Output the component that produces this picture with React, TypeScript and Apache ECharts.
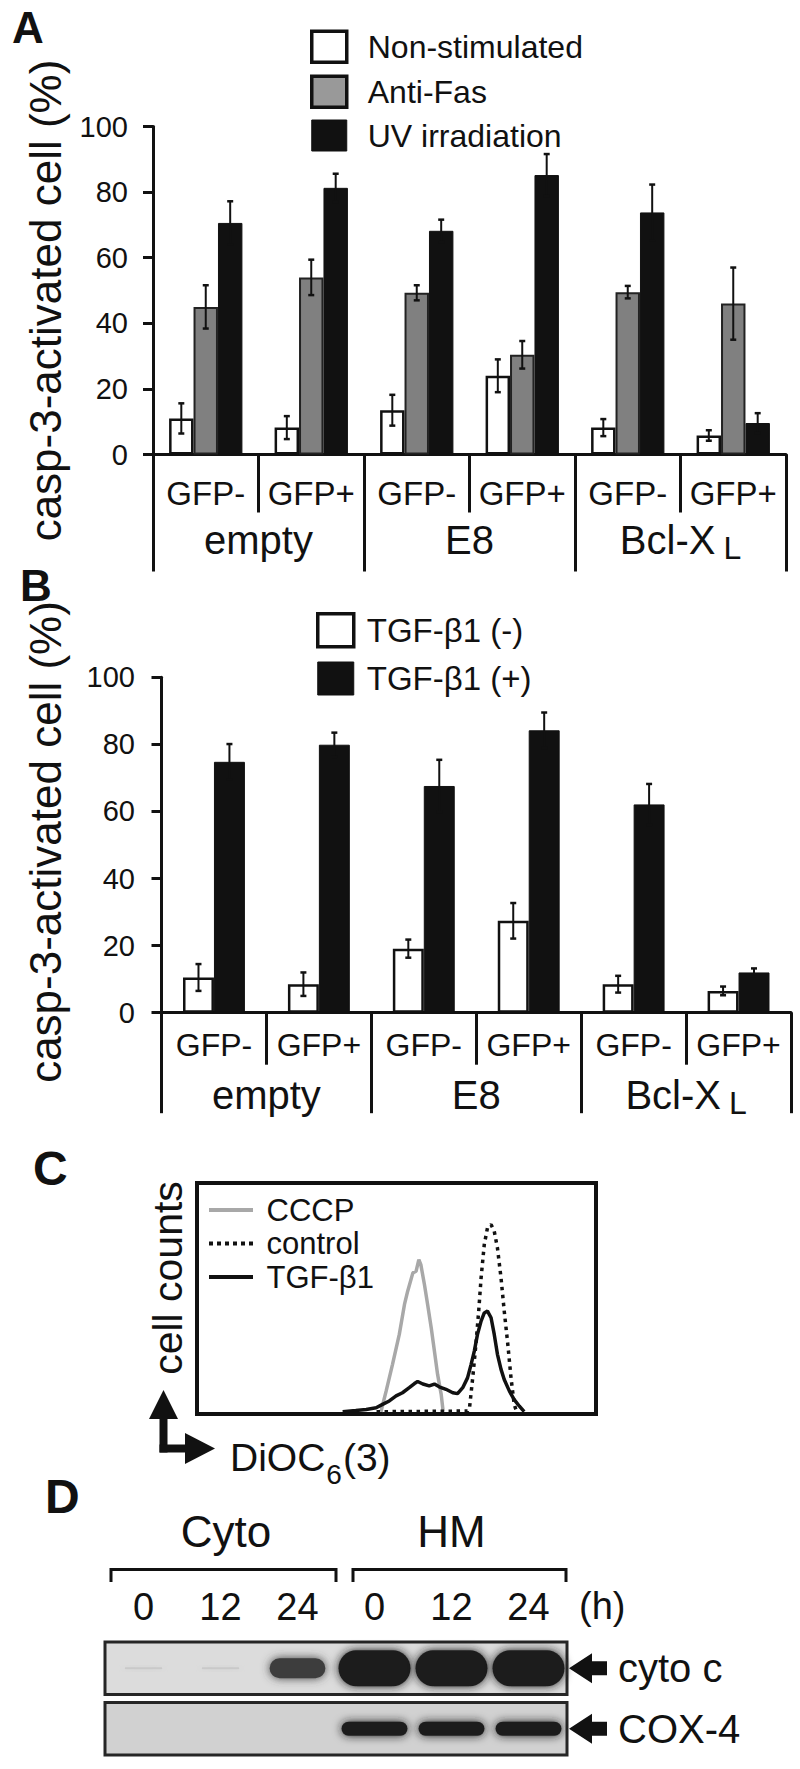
import React, { useEffect, useRef } from 'react';
import * as echarts from 'echarts';

const FONT = "'Liberation Sans', Arial, Helvetica, sans-serif";
const INK = '#111111';

// ---------- Panel A data ----------
const gfpCategories = ['GFP-', 'GFP+', 'GFP-', 'GFP+', 'GFP-', 'GFP+'];
const constructGroups = ['empty', 'E8', 'Bcl-XL'];
const aSeriesNames = ['Non-stimulated', 'Anti-Fas', 'UV irradiation'];
const aNonStim = [11, 8.2, 13.5, 24, 8.2, 5.8];
const aNonStimErr = [4.6, 3.5, 4.7, 5, 2.6, 1.6];
const aAntiFas = [45, 54, 49.3, 30.4, 49.5, 46];
const aAntiFasErr = [6.6, 5.4, 2.3, 4.2, 1.9, 11];
const aUV = [70.6, 81.3, 68.2, 85.2, 73.8, 9.6];
const aUVErr = [6.6, 4.3, 3.4, 6.4, 8.5, 3];

// ---------- Panel B data ----------
const bSeriesNames = ['TGF-β1 (-)', 'TGF-β1 (+)'];
const bMinus = [10.5, 8.5, 19.1, 27.4, 8.5, 6.5];
const bMinusErr = [4, 3.5, 2.7, 5.3, 2.5, 1.3];
const bPlus = [74.8, 79.9, 67.6, 84.2, 62.1, 12];
const bPlusErr = [5.3, 3.6, 7.8, 5.3, 6.1, 1.2];

// ---------- Panel C data (DiOC6(3) channel, relative cell counts) ----------
const cSeriesNames = ['CCCP', 'control', 'TGF-β1'];
const cccpHist = [[461, 0], [474, 9], [490, 20.7], [507, 33.8], [520, 46.9], [528, 52.7], [541, 60.7], [549, 61.4], [556, 66.5], [561, 64.3], [570, 55.6], [578, 46.9], [587, 36.7], [595, 26.5], [603, 16.3], [612, 7.6], [617, 0]];
const controlHist = [[450, 0], [678, 0.3], [683, 1.7], [691, 14.8], [699, 29.4], [706, 44], [712, 58.5], [720, 73.1], [728, 80.4], [737, 81.8], [745, 78.9], [753, 71.6], [762, 58.5], [770, 44], [779, 29.4], [787, 14.8], [795, 3.2], [801, 0]];
const tgfHist = [[365, 0], [398, 0.5], [424, 1], [449, 1.7], [465, 3.2], [482, 4.7], [499, 6.9], [515, 8.3], [532, 10.5], [545, 12.3], [553, 13.2], [566, 12.1], [582, 11.3], [595, 12.1], [607, 10.9], [624, 9.8], [641, 8.3], [653, 7.9], [666, 10.5], [678, 14.8], [687, 20.7], [695, 26.5], [703, 33.8], [712, 39.6], [720, 43.2], [728, 44], [737, 41.1], [745, 33.8], [753, 25.1], [762, 18.5], [770, 14.1], [783, 9], [795, 5.3], [808, 2.4], [820, 0]];

// ---------- Panel D data (western blot) ----------
const laneLabels = ['0', '12', '24', '0', '12', '24'];
const fractionLabels = ['Cyto', 'HM'];
const blotRows = ['cyto c', 'COX-4'];
const cytoCSignal = [0.04, 0.04, 0.55, 1, 1, 1];
const cox4Signal = [0, 0, 0, 1, 1, 1];

// ---------- helpers ----------
function errData(vals: number[][], errs: number[][]) {
  const out: number[][] = [];
  vals.forEach((arr, s) => arr.forEach((v, c) => out.push([c, s, v, errs[s][c]])));
  return out;
}

function makeErrRender(n: number, gap: number) {
  return (params: any, api: any) => {
    const c = api.value(0), s = api.value(1), v = api.value(2), e = api.value(3);
    const base = api.coord([c, v]);
    const band = api.size([1, 0])[0];
    const bw = (band * (1 - gap)) / n;
    const x = base[0] + (s - (n - 1) / 2) * bw;
    const yTop = api.coord([c, v + e])[1];
    const yBot = api.coord([c, v - e])[1];
    const cap = 3;
    return {
      type: 'group',
      children: [
        { type: 'line', shape: { x1: x, y1: yTop, x2: x, y2: yBot }, style: { stroke: INK, lineWidth: 2 } },
        { type: 'line', shape: { x1: x - cap, y1: yTop, x2: x + cap, y2: yTop }, style: { stroke: INK, lineWidth: 2.5 } },
        { type: 'line', shape: { x1: x - cap, y1: yBot, x2: x + cap, y2: yBot }, style: { stroke: INK, lineWidth: 2.5 } },
      ],
    };
  };
}

const groupRich = {
  m: { fontSize: 40, lineHeight: 44, verticalAlign: 'top', color: INK, fontFamily: FONT },
  sub: { fontSize: 32, lineHeight: 32, verticalAlign: 'top', padding: [12, 0, 0, 8], color: INK, fontFamily: FONT },
};
const groupFormatter = (v: string) => (v === 'Bcl-XL' ? '{m|Bcl-X}{sub|L}' : `{m|${v}}`);

const stripFill = ['#dcdcdc', '#d1d1d1'];
const bandMaxW = [72, 66];
const bandMaxH = [36, 14];

function stripRender(params: any, api: any) {
  const r = api.value(1);
  const cs = params.coordSys;
  const cy = api.coord([0, r])[1];
  const rowH = api.size([0, 1])[1];
  const h = rowH - 8;
  const right = cs.x + cs.width;
  return {
    type: 'group',
    children: [
      { type: 'rect', shape: { x: cs.x, y: cy - h / 2, width: cs.width, height: h }, style: { fill: stripFill[r], stroke: '#262626', lineWidth: 3 } },
      {
        type: 'polygon',
        shape: { points: [[right + 2, cy], [right + 25, cy - 15], [right + 25, cy - 7], [right + 40, cy - 7], [right + 40, cy + 7], [right + 25, cy + 7], [right + 25, cy + 15]] },
        style: { fill: INK },
      },
    ],
  };
}

function bandRender(params: any, api: any) {
  const lane = api.value(0), r = api.value(1), s = api.value(2);
  if (!(s > 0)) return null;
  const c = api.coord([lane, r]);
  const w = bandMaxW[r] * (0.5 + 0.5 * Math.min(s, 1));
  const h = Math.max(2, bandMaxH[r] * s);
  const k = Math.min(1, s * 1.5);
  const g = Math.round(212 - (212 - 30) * k);
  const col = `rgb(${g},${g},${g})`;
  return {
    type: 'rect',
    shape: { x: c[0] - w / 2, y: c[1] - h / 2, width: w, height: h, r: h / 2 },
    style: { fill: col, shadowBlur: 10, shadowColor: col },
  };
}

function letter(t: string, x: number, y: number, size: number) {
  return {
    type: 'text', x, y,
    style: { text: t, fontSize: size, fontWeight: 'bold', fontFamily: FONT, fill: INK, align: 'left', verticalAlign: 'middle', textAlign: 'left', textVerticalAlign: 'middle' },
  };
}
function label(t: string, x: number, y: number, size: number, rotation = 0) {
  return {
    type: 'text', x, y, rotation,
    style: { text: t, fontSize: size, fontFamily: FONT, fill: INK, align: 'center', verticalAlign: 'middle', textAlign: 'center', textVerticalAlign: 'middle' },
  };
}

const axisLineStyle = { color: INK, width: 3 };

function valueYAxis(grid: number, margin: number, nameGap: number, namePadding: number[]) {
  return {
    type: 'value', gridIndex: grid, min: 0, max: 100, interval: 20,
    axisLine: { show: true, lineStyle: axisLineStyle },
    axisTick: { show: true, length: 10, lineStyle: axisLineStyle },
    axisLabel: { fontSize: 29, margin, color: INK, fontFamily: FONT },
    splitLine: { show: false },
    name: 'casp-3-activated cell (%)', nameLocation: 'middle', nameGap, nameRotate: 90,
    nameTextStyle: { fontSize: 44, color: INK, fontFamily: FONT, padding: namePadding },
  };
}
function gfpXAxis(grid: number, tickLen: number, margin: number, fontSize: number) {
  return {
    type: 'category', gridIndex: grid, data: gfpCategories, position: 'bottom',
    axisLine: { onZero: false, lineStyle: axisLineStyle },
    axisTick: { show: true, interval: 0, length: tickLen, lineStyle: axisLineStyle },
    axisLabel: { interval: 0, fontSize, lineHeight: 32, margin, color: INK, fontFamily: FONT },
  };
}
function groupXAxis(grid: number, tickLen: number, margin: number) {
  return {
    type: 'category', gridIndex: grid, data: constructGroups, position: 'bottom', offset: 0,
    axisLine: { show: false },
    axisTick: { show: true, interval: 0, length: tickLen, lineStyle: axisLineStyle },
    axisLabel: { interval: 0, margin, formatter: groupFormatter, rich: groupRich },
  };
}

const dotIcon = 'path://M0,0h4v4h-4z M8,0h4v4h-4z M16,0h4v4h-4z M24,0h4v4h-4z M32,0h4v4h-4z M40,0h4v4h-4z';
const barIcon = 'path://M0,0h44v4h-44z';

const option: any = {
  animation: false,
  backgroundColor: '#ffffff',
  textStyle: { fontFamily: FONT, color: INK },
  grid: [
    { left: 153, top: 126.5, width: 633, height: 328 },
    { left: 161.5, top: 677.3, width: 629.5, height: 335.4 },
    { left: 197, top: 1183, width: 399, height: 231, show: true, borderColor: INK, borderWidth: 4, backgroundColor: 'transparent' },
    { left: 105, top: 1638, width: 462, height: 121 },
  ],
  xAxis: [
    gfpXAxis(0, 58, 23, 33),
    groupXAxis(0, 117, 65),
    gfpXAxis(1, 52, 16.3, 32),
    groupXAxis(1, 100.5, 62.3),
    { type: 'value', gridIndex: 2, min: 0, max: 1000, show: false },
    {
      type: 'category', gridIndex: 3, position: 'top', data: laneLabels,
      axisLine: { show: false }, axisTick: { show: false },
      axisLabel: { interval: 0, fontSize: 38, lineHeight: 38, margin: 12, color: INK, fontFamily: FONT },
      name: '(h)', nameLocation: 'end', nameGap: 12,
      nameTextStyle: { fontSize: 38, lineHeight: 38, verticalAlign: 'bottom', align: 'left', padding: [0, 0, 13, 0], color: INK, fontFamily: FONT },
    },
  ],
  yAxis: [
    valueYAxis(0, 25, 86, [0, 20, 0, 0]),
    valueYAxis(1, 26.5, 94.5, [0, 0, 0, 6]),
    { type: 'value', gridIndex: 2, min: -1, max: 100, show: false },
    {
      type: 'category', gridIndex: 3, data: blotRows, inverse: true, position: 'right',
      axisLine: { show: false }, axisTick: { show: false },
      axisLabel: { fontSize: 40, margin: 51, color: INK, fontFamily: FONT },
    },
  ],
  legend: [
    {
      left: 310, top: 29.5, orient: 'vertical', itemWidth: 35, itemHeight: 31, itemGap: 10.5, padding: 0,
      selectedMode: false, icon: 'rect',
      textStyle: { fontSize: 32, lineHeight: 32, padding: [0, 0, 0, 16], color: INK, fontFamily: FONT },
      data: [
        { name: aSeriesNames[0], itemStyle: { color: '#ffffff', borderColor: INK, borderWidth: 3.5 } },
        { name: aSeriesNames[1], itemStyle: { color: '#999999', borderColor: INK, borderWidth: 3.5 } },
        { name: aSeriesNames[2], itemStyle: { color: INK, borderColor: INK, borderWidth: 1 } },
      ],
    },
    {
      left: 316, top: 612, orient: 'vertical', itemWidth: 36, itemHeight: 33, itemGap: 13, padding: 0,
      selectedMode: false, icon: 'rect',
      textStyle: { fontSize: 33, lineHeight: 33, padding: [0, 0, 0, 8], color: INK, fontFamily: FONT },
      data: [
        { name: bSeriesNames[0], itemStyle: { color: '#ffffff', borderColor: INK, borderWidth: 3.5 } },
        { name: bSeriesNames[1], itemStyle: { color: INK, borderColor: INK, borderWidth: 1 } },
      ],
    },
    {
      left: 209, top: 1193.5, orient: 'vertical', itemWidth: 47, itemHeight: 4, itemGap: 0.5, padding: 0,
      selectedMode: false,
      textStyle: { fontSize: 31, lineHeight: 33, padding: [0, 0, 0, 7], color: INK, fontFamily: FONT },
      data: [
        { name: cSeriesNames[0], icon: barIcon, itemStyle: { color: '#a8a8a8', borderWidth: 0 } },
        { name: cSeriesNames[1], icon: dotIcon, itemStyle: { color: INK, borderWidth: 0 } },
        { name: cSeriesNames[2], icon: barIcon, itemStyle: { color: INK, borderWidth: 0 } },
      ],
    },
  ],
  series: [
    // Panel A
    { type: 'bar', name: aSeriesNames[0], xAxisIndex: 0, yAxisIndex: 0, data: aNonStim, barGap: '0%', barCategoryGap: '30.5%', itemStyle: { color: '#ffffff', borderColor: INK, borderWidth: 2.5 } },
    { type: 'bar', name: aSeriesNames[1], xAxisIndex: 0, yAxisIndex: 0, data: aAntiFas, barGap: '0%', barCategoryGap: '30.5%', itemStyle: { color: '#808080', borderColor: '#222222', borderWidth: 2 } },
    { type: 'bar', name: aSeriesNames[2], xAxisIndex: 0, yAxisIndex: 0, data: aUV, barGap: '0%', barCategoryGap: '30.5%', itemStyle: { color: INK, borderColor: INK, borderWidth: 1 } },
    {
      type: 'custom', xAxisIndex: 0, yAxisIndex: 0, silent: true, z: 5,
      data: errData([aNonStim, aAntiFas, aUV], [aNonStimErr, aAntiFasErr, aUVErr]),
      encode: { x: 0, y: 2 }, renderItem: makeErrRender(3, 0.305),
    },
    // Panel B
    { type: 'bar', name: bSeriesNames[0], xAxisIndex: 2, yAxisIndex: 1, data: bMinus, barGap: '0%', barCategoryGap: '41%', itemStyle: { color: '#ffffff', borderColor: INK, borderWidth: 2.5 } },
    { type: 'bar', name: bSeriesNames[1], xAxisIndex: 2, yAxisIndex: 1, data: bPlus, barGap: '0%', barCategoryGap: '41%', itemStyle: { color: INK, borderColor: INK, borderWidth: 1 } },
    {
      type: 'custom', xAxisIndex: 2, yAxisIndex: 1, silent: true, z: 5,
      data: errData([bMinus, bPlus], [bMinusErr, bPlusErr]),
      encode: { x: 0, y: 2 }, renderItem: makeErrRender(2, 0.41),
    },
    // Panel C
    { type: 'line', name: cSeriesNames[0], xAxisIndex: 4, yAxisIndex: 2, data: cccpHist, symbol: 'none', itemStyle: { color: '#a8a8a8' }, lineStyle: { color: '#a8a8a8', width: 3.5 } },
    { type: 'line', name: cSeriesNames[1], xAxisIndex: 4, yAxisIndex: 2, data: controlHist, symbol: 'none', itemStyle: { color: INK }, lineStyle: { color: INK, width: 3.5, type: [3.5, 4.5] } },
    { type: 'line', name: cSeriesNames[2], xAxisIndex: 4, yAxisIndex: 2, data: tgfHist, symbol: 'none', itemStyle: { color: INK }, lineStyle: { color: INK, width: 3.5 } },
    // Panel D
    {
      type: 'custom', xAxisIndex: 5, yAxisIndex: 3, silent: true, clip: false, z: 1,
      data: blotRows.map((_, r) => [0, r]), encode: { x: 0, y: 1 }, renderItem: stripRender,
    },
    {
      type: 'custom', xAxisIndex: 5, yAxisIndex: 3, silent: true, clip: false, z: 3,
      data: [
        ...cytoCSignal.map((s, i) => [i, 0, s]),
        ...cox4Signal.map((s, i) => [i, 1, s]),
      ],
      encode: { x: 0, y: 1 }, renderItem: bandRender,
    },
  ],
  graphic: [
    letter('A', 12, 27.5, 44),
    letter('B', 20, 585, 44),
    letter('C', 33, 1168, 48),
    letter('D', 45, 1496, 48),
    // Panel C axis captions and arrows
    label('cell counts', 167.5, 1278, 41, Math.PI / 2),
    { type: 'polygon', shape: { points: [[149, 1419], [163.5, 1390], [178, 1419]] }, style: { fill: INK } },
    { type: 'rect', shape: { x: 159.5, y: 1417, width: 8, height: 35.5 }, style: { fill: INK } },
    { type: 'rect', shape: { x: 159.5, y: 1444.5, width: 28, height: 8 }, style: { fill: INK } },
    { type: 'polygon', shape: { points: [[185, 1433], [215, 1448.5], [185, 1464]] }, style: { fill: INK } },
    {
      type: 'text', x: 230, y: 1460,
      style: {
        text: '{m|DiOC}{s|6}{m|(3)}', fill: INK, align: 'left', verticalAlign: 'middle', textAlign: 'left', textVerticalAlign: 'middle',
        rich: {
          m: { fontSize: 39, lineHeight: 44, verticalAlign: 'top', fontFamily: FONT, fill: INK },
          s: { fontSize: 28, lineHeight: 28, verticalAlign: 'top', padding: [22, 1, 0, 1], fontFamily: FONT, fill: INK },
        },
      },
    },
    // Panel D fraction labels and brackets
    label(fractionLabels[0], 226, 1531, 44),
    label(fractionLabels[1], 451.5, 1531, 44),
    { type: 'polyline', shape: { points: [[111, 1582], [111, 1569.5], [336, 1569.5], [336, 1582]] }, style: { stroke: INK, lineWidth: 3, fill: 'none' } },
    { type: 'polyline', shape: { points: [[353, 1582], [353, 1569.5], [566, 1569.5], [566, 1582]] }, style: { stroke: INK, lineWidth: 3, fill: 'none' } },
  ],
};

export default function App() {
  const ref = useRef<HTMLDivElement>(null);
  useEffect(() => {
    const chart = echarts.init(ref.current as HTMLDivElement, null, { renderer: 'svg' });
    chart.setOption(option);
    return () => chart.dispose();
  }, []);
  return (
    <div
      ref={ref}
      style={{ position: 'absolute', left: 0, top: 0, width: 800, height: 1769, background: '#ffffff' }}
    />
  );
}
